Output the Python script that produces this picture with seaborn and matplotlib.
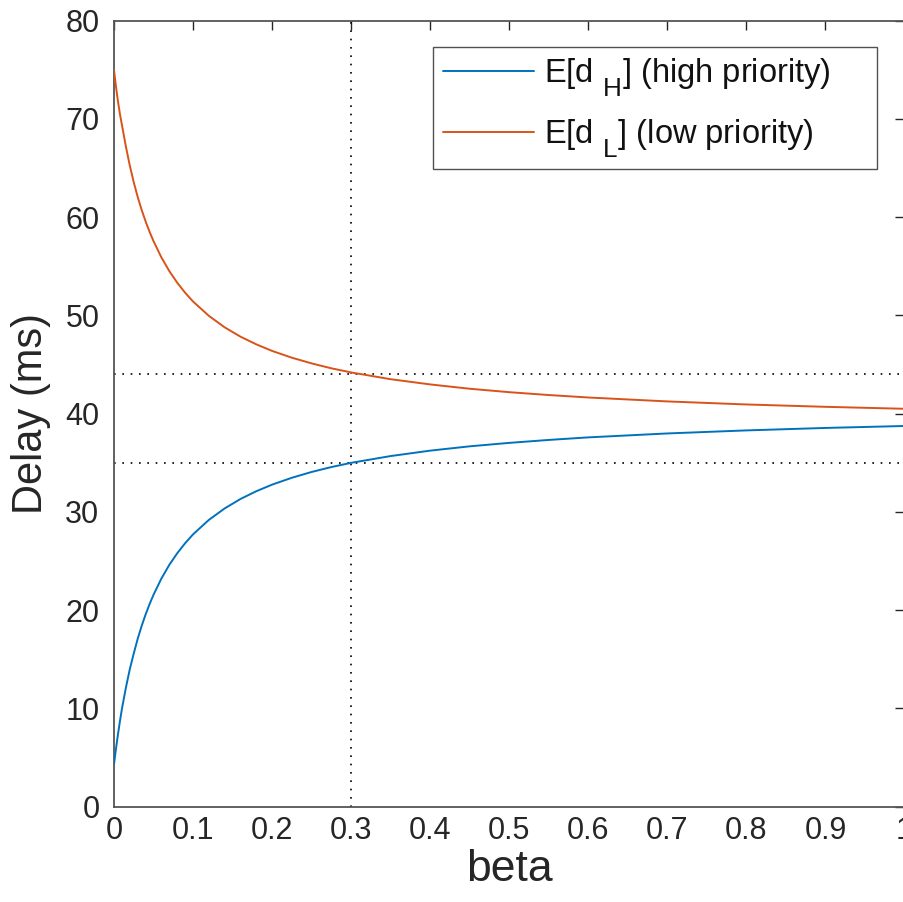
import numpy as np
import pandas as pd
import matplotlib
matplotlib.use("Agg")
import matplotlib.pyplot as plt
import matplotlib._mathtext as _mt
import seaborn as sns

# ---- data ----
beta = [0.0, 0.0025, 0.005, 0.0075, 0.01, 0.015, 0.02, 0.025, 0.03, 0.035,
        0.04, 0.045, 0.05, 0.06, 0.07, 0.08, 0.09, 0.1, 0.12, 0.14, 0.16,
        0.18, 0.2, 0.225, 0.25, 0.275, 0.3, 0.35, 0.4, 0.45, 0.5, 0.55, 0.6,
        0.7, 0.8, 0.9, 1.0]
delay_high = [4.3, 5.9, 7.35, 8.7, 9.95, 12.1, 14.0, 15.6, 17.1, 18.4,
              19.57, 20.62, 21.57, 23.23, 24.62, 25.8, 26.82, 27.72, 29.19,
              30.36, 31.32, 32.11, 32.78, 33.48, 34.07, 34.57, 35.0, 35.69,
              36.24, 36.68, 37.03, 37.33, 37.59, 37.99, 38.3, 38.55, 38.75]
delay_low = [75.0, 73.3, 71.8, 70.5, 69.4, 67.2, 65.25, 63.55, 62.05, 60.74,
             59.57, 58.51, 57.56, 55.9, 54.51, 53.33, 52.31, 51.42, 49.96,
             48.79, 47.84, 47.06, 46.39, 45.7, 45.12, 44.62, 44.2, 43.51,
             42.98, 42.54, 42.19, 41.9, 41.65, 41.25, 40.94, 40.7, 40.5]
labels = [r'E[d $_{\mathregular{H}}$] (high priority)',
          r'E[d $_{\mathregular{L}}$] (low priority)']
ref_beta = 0.3
ref_delays = [44, 35]
xticks = [0, 0.1, 0.2, 0.3, 0.4, 0.5, 0.6, 0.7, 0.8, 0.9, 1]
xticklabels = ['0', '0.1', '0.2', '0.3', '0.4', '0.5', '0.6', '0.7', '0.8', '0.9', '1']
yticks = [0, 10, 20, 30, 40, 50, 60, 70, 80]

# MATLAB-like subscripts: larger and lower
_mt.SHRINK_FACTOR = 0.8
_mt.FontConstantsBase.subdrop = 1.3
_mt.FontConstantsBase.sub1 = 0.8

sns.set_theme(style="white")
plt.rcParams['font.family'] = ['Liberation Sans', 'DejaVu Sans']
plt.rcParams['mathtext.fontset'] = 'custom'
plt.rcParams['mathtext.rm'] = 'Liberation Sans'
plt.rcParams['mathtext.it'] = 'Liberation Sans'

df = pd.DataFrame({'beta': beta, 'high': delay_high, 'low': delay_low})

fig = plt.figure(figsize=(9.04, 9.02), dpi=100)
ax = fig.add_axes([114 / 904, 95.3 / 902, 790.5 / 904, 786 / 902])

ax.axvline(ref_beta, color='black', lw=1.2, linestyle=(0, (1, 4)), zorder=1)
for d in ref_delays:
    ax.axhline(d, color='black', lw=1.2, linestyle=(0, (1, 4)), zorder=1)

sns.lineplot(data=df, x='beta', y='high', ax=ax, color='#0072BD', lw=1.4,
             label=labels[0], zorder=3)
sns.lineplot(data=df, x='beta', y='low', ax=ax, color='#D95319', lw=1.4,
             label=labels[1], zorder=3)

ax.set_xlim(0, 1)
ax.set_ylim(0, 80)
ax.set_xticks(xticks)
ax.set_xticklabels(xticklabels)
ax.set_yticks(yticks)

ax.tick_params(axis='both', direction='in', length=6.3, width=1.0,
               color='#262626', labelcolor='#262626', labelsize=22,
               top=True, right=True)
ax.tick_params(axis='x', pad=7)
ax.tick_params(axis='y', pad=10.5)
for s in ax.spines.values():
    s.set_visible(True)
    s.set_color('#555555')
    s.set_linewidth(1.3)

ax.set_xlabel('beta', fontsize=32, color='#262626', labelpad=2)
ax.set_ylabel('Delay (ms)', fontsize=30, color='#262626', labelpad=10)

leg = ax.legend(loc='upper left',
                bbox_to_anchor=(433 / 904, 1 - 168 / 902, 444 / 904, 121 / 902),
                bbox_transform=fig.transFigure, mode='expand',
                fontsize=23.5, frameon=True, fancybox=False,
                handlelength=2.8, handletextpad=0.3,
                borderpad=0.3, labelspacing=0.55, borderaxespad=0)
leg.get_frame().set_edgecolor('#262626')
leg.get_frame().set_linewidth(1.0)
for t in leg.get_texts():
    t.set_color('#111111')

fig.savefig('out.png', dpi=100)
